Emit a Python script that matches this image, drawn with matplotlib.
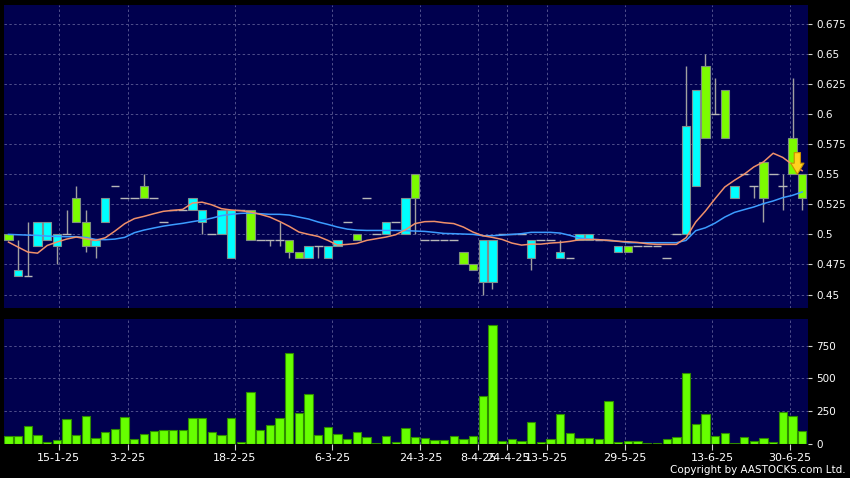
import matplotlib
matplotlib.use('Agg')
import matplotlib.pyplot as plt
import numpy as np

# ---------------- data ----------------
opens = [0.50, 0.465, 0.465, 0.49, 0.495, 0.49, 0.50, 0.53, 0.51, 0.49,
         0.51, 0.54, 0.53, 0.53, 0.54, 0.53, 0.51, 0.52, 0.52, 0.52,
         0.51, 0.50, 0.50, 0.48, 0.52, 0.52, 0.495, 0.495, 0.495, 0.495,
         0.485, 0.48, 0.49, 0.48, 0.49, 0.51, 0.50, 0.53, 0.50, 0.50,
         0.51, 0.50, 0.55, 0.495, 0.495, 0.495, 0.495, 0.485, 0.475, 0.46,
         0.46, 0.50, 0.50, 0.50, 0.48, 0.495, 0.495, 0.48, 0.48, 0.495,
         0.495, 0.495, 0.495, 0.485, 0.49, 0.49, 0.49, 0.49, 0.48, 0.50,
         0.50, 0.54, 0.64, 0.60, 0.62, 0.53, 0.55, 0.54, 0.56, 0.55,
         0.54, 0.58, 0.55]
highs = [0.50, 0.495, 0.51, 0.51, 0.51, 0.50, 0.52, 0.54, 0.52, 0.495,
         0.53, 0.54, 0.53, 0.53, 0.55, 0.53, 0.51, 0.52, 0.52, 0.53,
         0.52, 0.50, 0.52, 0.52, 0.52, 0.52, 0.495, 0.495, 0.51, 0.495,
         0.485, 0.49, 0.49, 0.49, 0.495, 0.51, 0.50, 0.53, 0.50, 0.51,
         0.51, 0.53, 0.55, 0.495, 0.495, 0.495, 0.495, 0.485, 0.475, 0.495,
         0.495, 0.50, 0.50, 0.50, 0.495, 0.495, 0.495, 0.495, 0.48, 0.50,
         0.50, 0.495, 0.495, 0.49, 0.49, 0.49, 0.49, 0.49, 0.48, 0.50,
         0.64, 0.62, 0.65, 0.63, 0.62, 0.54, 0.55, 0.54, 0.56, 0.55,
         0.55, 0.63, 0.55]
lows = [0.495, 0.465, 0.465, 0.49, 0.495, 0.475, 0.50, 0.51, 0.485, 0.48,
        0.51, 0.54, 0.53, 0.53, 0.53, 0.53, 0.51, 0.52, 0.52, 0.52,
        0.50, 0.50, 0.50, 0.48, 0.52, 0.495, 0.495, 0.49, 0.49, 0.48,
        0.48, 0.48, 0.48, 0.48, 0.49, 0.51, 0.495, 0.53, 0.50, 0.50,
        0.51, 0.50, 0.50, 0.495, 0.495, 0.495, 0.495, 0.475, 0.47, 0.45,
        0.455, 0.50, 0.50, 0.50, 0.47, 0.495, 0.495, 0.48, 0.48, 0.495,
        0.495, 0.495, 0.495, 0.485, 0.485, 0.49, 0.49, 0.49, 0.48, 0.50,
        0.50, 0.54, 0.58, 0.60, 0.58, 0.53, 0.55, 0.53, 0.51, 0.55,
        0.52, 0.55, 0.52]
closes = [0.495, 0.47, 0.465, 0.51, 0.51, 0.50, 0.50, 0.51, 0.49, 0.495,
          0.53, 0.54, 0.53, 0.53, 0.53, 0.53, 0.51, 0.52, 0.52, 0.53,
          0.52, 0.50, 0.52, 0.52, 0.52, 0.495, 0.495, 0.495, 0.495, 0.485,
          0.48, 0.49, 0.49, 0.49, 0.495, 0.51, 0.495, 0.53, 0.50, 0.51,
          0.51, 0.53, 0.53, 0.495, 0.495, 0.495, 0.495, 0.475, 0.47, 0.495,
          0.495, 0.50, 0.50, 0.50, 0.495, 0.495, 0.495, 0.485, 0.48, 0.50,
          0.50, 0.495, 0.495, 0.49, 0.485, 0.49, 0.49, 0.49, 0.48, 0.50,
          0.59, 0.62, 0.58, 0.60, 0.58, 0.54, 0.55, 0.54, 0.53, 0.55,
          0.54, 0.55, 0.53]
volumes = [59, 59, 134, 64, 13, 26, 188, 64, 211, 41,
           85, 110, 203, 33, 75, 98, 100, 100, 100, 193,
           193, 87, 69, 193, 8, 396, 103, 139, 193, 699,
           236, 378, 64, 128, 75, 33, 92, 51, 5, 59,
           8, 121, 49, 46, 26, 26, 59, 36, 59, 365,
           912, 23, 33, 18, 162, 13, 33, 224, 82, 46,
           44, 36, 324, 8, 21, 23, 3, 5, 33, 51,
           542, 152, 226, 59, 82, 2, 49, 23, 41, 8,
           241, 208, 98]
ma_short = [0.4936, 0.4894, 0.4853, 0.4844, 0.4908, 0.4936, 0.4961, 0.4978, 0.4964, 0.495,
            0.4972, 0.5028, 0.5089, 0.5131, 0.515, 0.5172, 0.5192, 0.52, 0.5208, 0.5261,
            0.5268, 0.5246, 0.5214, 0.5203, 0.5197, 0.5186, 0.5167, 0.5144, 0.5108, 0.5067,
            0.502, 0.50, 0.4983, 0.495, 0.4911, 0.4917, 0.4925, 0.495, 0.4964, 0.4978,
            0.4997, 0.5038, 0.509, 0.5106, 0.5108, 0.5097, 0.509, 0.5061, 0.5019, 0.4989,
            0.4975, 0.4958, 0.4928, 0.4911, 0.4919, 0.4919, 0.4928, 0.4933, 0.4942, 0.4956,
            0.4958, 0.4956, 0.495, 0.4942, 0.4939, 0.4933, 0.4922, 0.4917, 0.4917, 0.4917,
            0.4972, 0.5103, 0.5194, 0.5297, 0.5394, 0.545, 0.55, 0.5561, 0.5603, 0.5675,
            0.564, 0.558, 0.553]
ma_long = [0.50, 0.4997, 0.4994, 0.4992, 0.4986, 0.4983, 0.4981, 0.4981, 0.4975, 0.4958,
           0.4956, 0.4961, 0.4975, 0.5014, 0.5036, 0.5053, 0.5069, 0.5081, 0.5092, 0.5106,
           0.5119, 0.5135, 0.5156, 0.5167, 0.5175, 0.5178, 0.5172, 0.5167, 0.5167, 0.5161,
           0.5144, 0.5128, 0.5103, 0.5083, 0.5061, 0.5044, 0.5036, 0.5033, 0.5033, 0.5033,
           0.5033, 0.5031, 0.5028, 0.5025, 0.5017, 0.5008, 0.5006, 0.5003, 0.50, 0.4989,
           0.4989, 0.4994, 0.50, 0.5006, 0.5017, 0.5017, 0.5017, 0.5011, 0.4992, 0.4969,
           0.4961, 0.4956, 0.495, 0.4944, 0.4931, 0.4931, 0.4931, 0.4931, 0.4931, 0.4931,
           0.495, 0.5031, 0.5055, 0.5094, 0.5144, 0.5183, 0.5206, 0.5228, 0.5256, 0.5278,
           0.5306, 0.5325, 0.5353]
date_tick_pos = [5.2, 12.3, 23.35, 33.45, 42.55, 48.5, 51.55, 55.6, 63.7, 72.7, 80.7]
date_tick_labels = ['15-1-25', '3-2-25', '18-2-25', '6-3-25', '24-3-25', '8-4-25',
                    '24-4-25', '13-5-25', '29-5-25', '13-6-25', '30-6-25']
price_ticks = [0.45, 0.475, 0.5, 0.525, 0.55, 0.575, 0.6, 0.625, 0.65, 0.675]
price_tick_labels = ['0.45', '0.475', '0.5', '0.525', '0.55', '0.575', '0.6', '0.625', '0.65', '0.675']
vol_ticks = [0, 250, 500, 750]
vol_tick_labels = ['0', '250', '500', '750']
arrow_x = 81.5
arrow_from = 0.568
arrow_to = 0.55

# ---------------- styling ----------------
BG = '#000000'
PANEL = '#00004e'
GRID = '#50508c'
UP = '#00ffff'
DOWN = '#7cfc00'
VOL = '#66ff00'

plt.rcParams['font.family'] = ['DejaVu Sans']

fig = plt.figure(figsize=(8.5, 4.78), dpi=100, facecolor=BG)
W, H = 850.0, 478.0
ax1 = fig.add_axes([4 / W, 1 - 307.5 / H, 804 / W, 302.5 / H])
ax2 = fig.add_axes([4 / W, 1 - 443.5 / H, 804 / W, 124.5 / H])

O = np.array(opens); Hh = np.array(highs); L = np.array(lows); C = np.array(closes)
x = np.arange(len(O))
up = C > O
dn = C < O
flat = C == O

for ax in (ax1, ax2):
    ax.set_facecolor(PANEL)
    for s in ax.spines.values():
        s.set_visible(False)
    ax.set_xlim(-0.465, 82.6)
    ax.set_xticks(date_tick_pos)
    ax.grid(True, color=GRID, linestyle=(0, (2.5, 2.5)), linewidth=0.7)
    ax.set_axisbelow(True)
    ax.yaxis.tick_right()
    ax.tick_params(axis='y', colors='#d0d0d0', labelcolor='white', length=3,
                   width=0.8, pad=3, labelsize=7.5, direction='out')

# price panel
ax1.set_ylim(0.4392, 0.6908)
ax1.set_yticks(price_ticks)
ax1.set_yticklabels(price_tick_labels)
ax1.tick_params(axis='x', length=0, labelbottom=False)

ax1.vlines(x, L, Hh, color='#a0a0a0', linewidth=1, zorder=2)
ax1.bar(x[up], (C - O)[up], bottom=O[up], width=0.86, color=UP,
        edgecolor='#7f8f8f', linewidth=0.8, zorder=3)
ax1.bar(x[dn], (O - C)[dn], bottom=C[dn], width=0.86, color=DOWN,
        edgecolor='#7f8f7f', linewidth=0.8, zorder=3)
ax1.hlines(C[flat], x[flat] - 0.45, x[flat] + 0.45, color='#b8b8b8',
           linewidth=1, zorder=3)
ax1.plot(x, ma_long, color='#3c9cff', linewidth=1.1, zorder=4)
ax1.plot(x, ma_short, color='#f0906a', linewidth=1.1, zorder=4)

ax1.annotate('', xy=(arrow_x, arrow_to), xytext=(arrow_x, arrow_from),
             arrowprops=dict(arrowstyle='simple,head_length=0.8,head_width=0.95,tail_width=0.45',
                             fc='#ffd21f', ec='#c89000', lw=0.8, shrinkA=0, shrinkB=0),
             zorder=6)

# volume panel
ax2.set_ylim(0, 957)
ax2.set_yticks(vol_ticks)
ax2.set_yticklabels(vol_tick_labels)
ax2.bar(x, volumes, width=0.86, color=VOL, edgecolor='#2e8c00', linewidth=0.8, zorder=3)
ax2.set_xticklabels(date_tick_labels)
ax2.tick_params(axis='x', colors='#d0d0d0', labelcolor='white', length=4,
                width=0.8, pad=3, labelsize=8, direction='out')

fig.text(846 / W, 1 - 470 / H, 'Copyright by AASTOCKS.com Ltd.', ha='right', va='center',
         color='white', fontsize=7.5)

fig.savefig('out.png', dpi=100, facecolor=BG)
